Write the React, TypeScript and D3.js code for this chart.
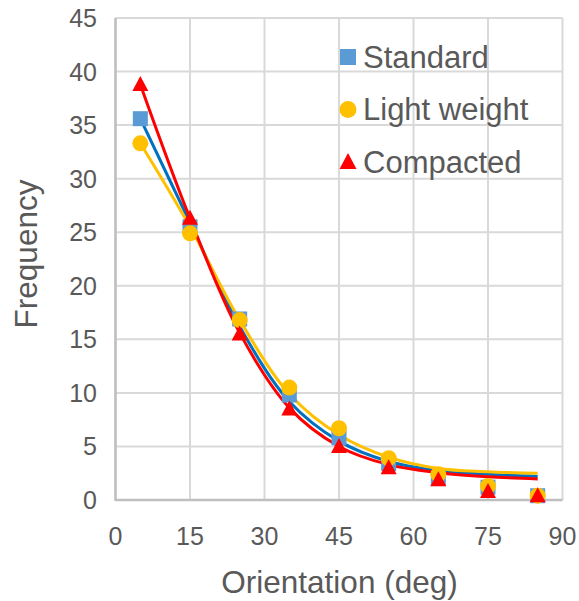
import React from "react";
import * as d3 from "d3";

const orientations = [5, 15, 25, 35, 45, 55, 65, 75, 85];
const standardValues = [35.6, 25.5, 16.9, 9.8, 5.8, 3.4, 2.0, 1.2, 0.4];
const lightValues = [33.3, 24.9, 16.8, 10.5, 6.7, 3.9, 2.4, 1.3, 0.4];
const compactedValues = [38.8, 26.3, 15.5, 8.5, 5.0, 3.0, 1.9, 0.8, 0.4];
// trendline (fitted) values at the same orientations
const standardFit = [35.6, 25.9, 16.2, 9.2, 5.5, 3.6, 2.75, 2.4, 2.2];
const lightFit = [33.3, 25.5, 16.8, 9.9, 6.1, 4.0, 2.95, 2.64, 2.49];
const compactedFit = [38.8, 26.3, 15.6, 8.6, 5.0, 3.3, 2.55, 2.17, 1.97];
const seriesNames = ["Standard", "Light weight", "Compacted"];
const xTicks = [0, 15, 30, 45, 60, 75, 90];
const yTicks = [0, 5, 10, 15, 20, 25, 30, 35, 40, 45];

const W = 579;
const H = 601;
const L = 115.5, R = 562.5, T = 18, B = 500;
const FONT = "'Liberation Sans', Arial, sans-serif";
const TXT = "#595959";

export default function App() {
  const x = d3.scaleLinear().domain([0, 90]).range([L, R]);
  const y = d3.scaleLinear().domain([0, 45]).range([B, T]);
  const line = d3
    .line<number>()
    .x((_, i) => x(orientations[i]))
    .y((d) => y(d))
    .curve(d3.curveCatmullRom.alpha(0.5));

  const series = [
    { name: seriesNames[0], vals: standardValues, fit: standardFit, lineColor: "#0070C0", fill: "#5B9BD5", shape: "square" },
    { name: seriesNames[1], vals: lightValues, fit: lightFit, lineColor: "#FFC000", fill: "#FFC000", shape: "circle" },
    { name: seriesNames[2], vals: compactedValues, fit: compactedFit, lineColor: "#FF0000", fill: "#FF0000", shape: "triangle" },
  ];

  const marker = (shape: string, cx: number, cy: number, fill: string, key: string | number, s = 15) => {
    if (shape === "square")
      return <rect key={key} x={cx - s / 2} y={cy - s / 2} width={s} height={s} fill={fill} />;
    if (shape === "circle") return <circle key={key} cx={cx} cy={cy} r={s / 2 + 0.5} fill={fill} />;
    const h = s;
    const w = s + 1;
    return (
      <path
        key={key}
        d={`M${cx},${cy - h / 2 - 1}L${cx + w / 2},${cy + h / 2 - 1}L${cx - w / 2},${cy + h / 2 - 1}Z`}
        fill={fill}
      />
    );
  };

  const legendY = [57, 109.5, 162];

  return (
    <svg
      width={W}
      height={H}
      style={{ position: "absolute", left: 0, top: 0, background: "#fff" }}
      fontFamily={FONT}
    >
      {/* grid */}
      {yTicks.map((t) => (
        <line key={"gy" + t} x1={L} x2={R} y1={y(t)} y2={y(t)} stroke="#D9D9D9" strokeWidth={2} />
      ))}
      {xTicks.map((t) => (
        <line key={"gx" + t} x1={x(t)} x2={x(t)} y1={T} y2={B} stroke="#D9D9D9" strokeWidth={2} />
      ))}
      {/* axes */}
      <line x1={L} x2={L} y1={T} y2={B + 1} stroke="#BFBFBF" strokeWidth={2.5} />
      <line x1={L} x2={R} y1={B} y2={B} stroke="#BFBFBF" strokeWidth={2.5} />

      {/* tick labels */}
      {yTicks.map((t) => (
        <text key={"ty" + t} x={97} y={y(t) + 9} textAnchor="end" fontSize={25} fill={TXT}>
          {t}
        </text>
      ))}
      {xTicks.map((t) => (
        <text key={"tx" + t} x={x(t)} y={545} textAnchor="middle" fontSize={25} fill={TXT}>
          {t}
        </text>
      ))}

      {/* axis titles */}
      <text x={339.5} y={593} textAnchor="middle" fontSize={31.5} fill={TXT}>
        Orientation (deg)
      </text>
      <text
        transform={`translate(37,254) rotate(-90)`}
        textAnchor="middle"
        fontSize={31.5}
        fill={TXT}
      >
        Frequency
      </text>

      {/* trend lines */}
      {series.map((s) => (
        <path key={"l" + s.name} d={line(s.fit) || ""} fill="none" stroke={s.lineColor} strokeWidth={3} />
      ))}
      {/* markers */}
      {series.map((s) => (
        <g key={"m" + s.name}>
          {s.vals.map((v, i) => marker(s.shape, x(orientations[i]), y(v), s.fill, i))}
        </g>
      ))}

      {/* legend */}
      {series.map((s, i) => (
        <g key={"lg" + s.name}>
          {marker(s.shape, 348, legendY[i], s.fill, "lgm" + i, 16)}
          <text x={363} y={legendY[i] + 10.5} fontSize={31} fill={TXT}>
            {s.name}
          </text>
        </g>
      ))}
    </svg>
  );
}
